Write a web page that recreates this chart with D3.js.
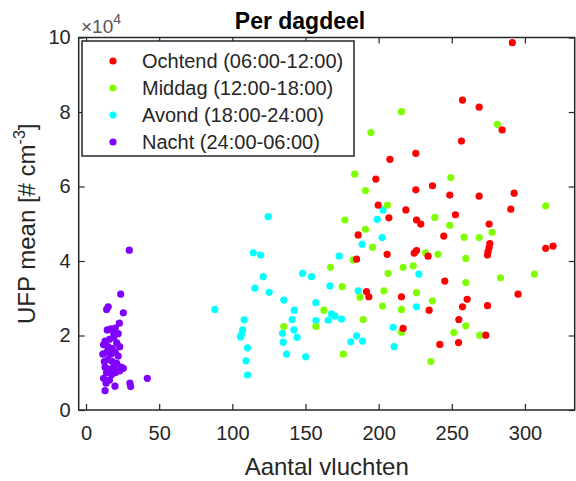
<!DOCTYPE html>
<html>
<head>
<meta charset="utf-8">
<script src="https://cdn.jsdelivr.net/npm/d3@7"></script>
<style>
    body { margin: 0; background: #fff; }
    svg { display: block; font-family: Arial, "Liberation Sans", sans-serif; }
</style>
</head>
<body>
<div id="chart"></div>
<script>
// Scatter data per part of the day: [aantal vluchten, UFP mean]
const ochtend = [
    [291.4, 98600], [257.3, 83200], [268.7, 81300], [284.4, 75200], [256.6, 72200],
    [225.4, 68900], [207.7, 67300], [198.1, 62000], [225.4, 59100], [236.8, 60200],
    [248.6, 57700], [268.7, 57400], [292.6, 58200], [290.3, 53900], [199.7, 55000],
    [218.6, 53700], [207.0, 51600], [225.9, 51000], [228.8, 49900], [252.5, 52400],
    [275.5, 49900], [186.0, 47000], [244.5, 46700], [205.8, 41800], [224.3, 42100],
    [225.9, 42800], [233.8, 41300], [184.9, 40500], [276.0, 44700], [275.5, 43600],
    [274.8, 42500], [274.4, 41600], [314.2, 43400], [319.2, 44000], [245.2, 34600],
    [191.7, 31800], [193.3, 30400], [215.6, 30400], [234.5, 26800], [295.3, 31100],
    [260.5, 29700], [257.3, 27700], [274.4, 28000], [216.7, 21900], [254.8, 24300],
    [273.2, 20100], [241.8, 17600], [254.6, 18100]
];
const middag = [
    [215.6, 80100], [194.7, 74500], [281.2, 76700], [183.7, 63300], [249.3, 62400],
    [191.0, 58900], [206.0, 55000], [176.9, 51000], [238.4, 51700], [314.2, 54800],
    [248.6, 49600], [191.0, 48500], [195.8, 43700], [232.0, 42200], [240.6, 41800],
    [277.5, 47700], [258.4, 46400], [268.7, 46300], [259.6, 40700], [182.6, 40300],
    [167.1, 38300], [206.5, 36700], [216.7, 38300], [223.6, 38700], [175.1, 33100],
    [187.2, 30300], [203.6, 32000], [225.9, 31500], [236.8, 29300], [259.6, 34200],
    [283.3, 35500], [306.5, 36500], [202.7, 27900], [215.6, 27000], [162.6, 26800],
    [189.4, 24300], [135.2, 22400], [157.1, 22400], [215.6, 20900], [259.6, 22600],
    [251.4, 20800], [269.1, 20100], [175.8, 15000], [235.7, 13000]
];
const avond = [
    [124.5, 51900], [114.3, 42200], [119.3, 41600], [121.1, 35800], [115.4, 32700],
    [125.2, 31600], [88.1, 27000], [108.1, 24200], [107.0, 21500], [106.1, 20100],
    [105.6, 19600], [110.4, 16700], [109.3, 13200], [110.4, 9400], [135.2, 29500],
    [142.3, 26800], [140.9, 24300], [142.1, 21500], [144.3, 19500], [134.3, 20600],
    [134.8, 18200], [137.1, 15000], [150.1, 14300], [148.0, 36700], [154.1, 35800],
    [157.1, 28800], [157.1, 24000], [166.7, 33300], [167.8, 25800], [170.1, 25200],
    [165.5, 24100], [174.6, 24400], [184.9, 19900], [181.0, 18300], [189.0, 18500],
    [225.8, 27700], [209.9, 22200], [210.6, 17000], [203.0, 53700], [199.0, 51200],
    [202.4, 46300], [188.7, 44500], [173.0, 41300], [186.0, 32000], [227.5, 36500]
];
const nacht = [
    [29.6, 42900], [23.7, 31100], [15.2, 27700], [14.1, 27000], [25.5, 26100],
    [22.8, 23300], [17.0, 21800], [20.0, 22000], [22.0, 20500], [13.0, 18500],
    [16.0, 19000], [19.0, 19500], [21.0, 18000], [12.0, 17500], [15.0, 17000],
    [18.0, 16500], [23.0, 17000], [11.5, 15000], [14.0, 15500], [17.0, 15000],
    [20.0, 15500], [22.0, 14500], [12.5, 13000], [15.0, 13500], [18.0, 13000],
    [21.0, 12500], [13.0, 11500], [16.0, 11000], [19.0, 11500], [25.5, 11200],
    [23.0, 10500], [14.0, 10000], [17.5, 9500], [20.0, 10000], [13.7, 7200],
    [13.0, 5200], [19.8, 6400], [30.0, 7200], [30.5, 6300], [41.9, 8500],
    [16.0, 8000], [12.0, 8500], [24.0, 11500], [19.0, 20500], [14.5, 21500]
];

const seriesNames = ["Ochtend (06:00-12:00)", "Middag (12:00-18:00)", "Avond (18:00-24:00)", "Nacht (24:00-06:00)"];
const seriesColors = ["#ff0000", "#80ff00", "#00ffff", "#8000ff"];
const xTicks = [0, 50, 100, 150, 200, 250, 300];
const yTicks = [0, 20000, 40000, 60000, 80000, 100000];

const axisColor = "#262626";

// chart dimensions
const margin = {top: 37.5, right: 1.3, bottom: 71, left: 78.7},
    width = 576 - margin.left - margin.right,
    height = 481 - margin.top - margin.bottom;

const svg = d3.select("#chart")
    .append("svg")
    .attr("width", 576)
    .attr("height", 481);

const g = svg.append("g")
    .attr("transform", `translate(${margin.left},${margin.top})`);

const xScale = d3.scaleLinear().domain([-5, 334]).range([0, width]);
const yScale = d3.scaleLinear().domain([0, 100000]).range([height, 0]);

// axes (ticks pointing inward, like matlab)
const xAxis = g.append("g")
    .attr("transform", `translate(0,${height})`)
    .call(d3.axisBottom(xScale).tickValues(xTicks).tickSize(-6).tickSizeOuter(0).tickPadding(16));
const yAxis = g.append("g")
    .call(d3.axisLeft(yScale).tickValues(yTicks).tickSize(-6).tickSizeOuter(0).tickPadding(8)
        .tickFormat(d => d / 10000));
const xTop = g.append("g")
    .call(d3.axisTop(xScale).tickValues(xTicks).tickSize(-6).tickSizeOuter(0).tickFormat(""));
const yRight = g.append("g")
    .attr("transform", `translate(${width},0)`)
    .call(d3.axisRight(yScale).tickValues(yTicks).tickSize(-6).tickSizeOuter(0).tickFormat(""));

[xAxis, yAxis, xTop, yRight].forEach(a => {
    a.attr("color", axisColor);
    a.select(".domain").remove();
    a.selectAll(".tick line").attr("stroke-width", 1.2);
    a.selectAll("text").attr("font-size", 20).attr("font-family", null);
});

// points, night first so the morning sits on top
const allSeries = [ochtend, middag, avond, nacht];
for (let i = allSeries.length - 1; i >= 0; i--) {
    g.append("g")
        .attr("fill", seriesColors[i])
        .selectAll("circle")
        .data(allSeries[i])
        .join("circle")
        .attr("cx", d => xScale(d[0]))
        .attr("cy", d => yScale(d[1]))
        .attr("r", 3.6);
}

// axes box
g.append("rect")
    .attr("width", width)
    .attr("height", height)
    .attr("fill", "none")
    .attr("stroke", axisColor)
    .attr("stroke-width", 1.5);

// exponent label
const expo = svg.append("text")
    .attr("x", 81)
    .attr("y", 33)
    .attr("fill", "#555")
    .attr("font-size", 19);
expo.append("tspan").text("×10");
expo.append("tspan").attr("font-size", 14).attr("dy", -9).text("4");

// title
svg.append("text")
    .attr("x", 300)
    .attr("y", 29)
    .attr("text-anchor", "middle")
    .attr("font-size", 23)
    .attr("font-weight", "bold")
    .attr("fill", "#000")
    .text("Per dagdeel");

// x label
svg.append("text")
    .attr("x", margin.left + width / 2)
    .attr("y", 475)
    .attr("text-anchor", "middle")
    .attr("font-size", 24)
    .attr("fill", axisColor)
    .text("Aantal vluchten");

// y label
const yLab = svg.append("text")
    .attr("transform", "rotate(-90)")
    .attr("x", -(margin.top + height / 2))
    .attr("y", 35)
    .attr("text-anchor", "middle")
    .attr("font-size", 24)
    .attr("fill", axisColor);
yLab.append("tspan").text("UFP mean [# cm");
yLab.append("tspan").attr("font-size", 16).attr("dy", -10).text("-3");
yLab.append("tspan").attr("dy", 10).text("]");

// legend
const legend = svg.append("g");
legend.append("rect")
    .attr("x", 82).attr("y", 41)
    .attr("width", 272).attr("height", 115)
    .attr("fill", "#fff")
    .attr("stroke", axisColor)
    .attr("stroke-width", 1.5);
seriesNames.forEach((name, i) => {
    const yy = 61 + i * 27;
    legend.append("circle").attr("cx", 113).attr("cy", yy).attr("r", 3.6).attr("fill", seriesColors[i]);
    legend.append("text").attr("x", 142).attr("y", yy).attr("dy", "0.36em")
        .attr("font-size", 20).attr("fill", axisColor).text(name);
});
</script>
</body>
</html>
